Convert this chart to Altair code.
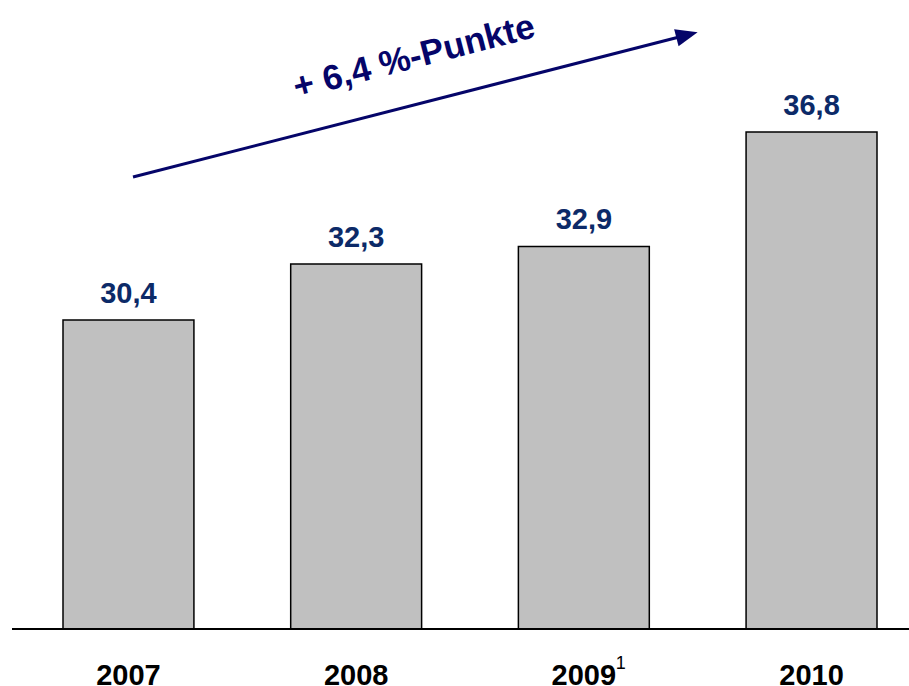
import altair as alt
import pandas as pd

years = ["2007", "2008", "2009", "2010"]
values = [30.4, 32.3, 32.9, 36.8]
value_labels = ["30,4", "32,3", "32,9", "36,8"]
footnote_year = ["2009"]
footnote_text = ["1"]
annotation_text = "+ 6,4 %-Punkte"

YMIN = 19.88
YMAX = 41.29
FONT = "Liberation Sans, Arial, Helvetica, sans-serif"

df = pd.DataFrame({"year": years, "value": values, "label": value_labels})
fn = pd.DataFrame({"year": footnote_year, "txt": footnote_text})
one = pd.DataFrame({"a": [0]})

xscale = alt.Scale(domain=years, range=[51, 865], paddingInner=0.425, paddingOuter=0)
yscale = alt.Scale(domain=[YMIN, YMAX], zero=False, nice=False)

xenc = alt.X("year:N", scale=xscale, sort=years,
             axis=alt.Axis(title=None, domain=False, ticks=False, tickSize=0,
                           labelAngle=0, labelFont=FONT, labelFontSize=29,
                           labelFontWeight="bold", labelColor="black",
                           labelBaseline="alphabetic", labelPadding=55, grid=False))

bars = alt.Chart(df).mark_bar(fill="#C0C0C0", stroke="black", strokeWidth=1.5).encode(
    x=xenc,
    y=alt.Y("value:Q", scale=yscale, axis=None),
    y2=alt.datum(YMIN),
)

labels = alt.Chart(df).mark_text(font=FONT, fontSize=29, fontWeight="bold",
                                 color="#0C2A68", baseline="alphabetic", dy=-17).encode(
    x=alt.X("year:N", scale=xscale, sort=years),
    y=alt.Y("value:Q", scale=yscale),
    text="label:N",
)

baseline = alt.Chart(one).mark_rule(color="black", strokeWidth=2).encode(
    y=alt.datum(YMIN)
)

footnote = alt.Chart(fn).mark_text(font=FONT, fontSize=18, color="black",
                                   baseline="alphabetic", dx=37).encode(
    x=alt.X("year:N", scale=xscale, sort=years),
    y=alt.value(669),
    text="txt:N",
)

arrow_line = alt.Chart(one).mark_rule(color="#050569", strokeWidth=3).encode(
    x=alt.value(121), y=alt.value(177), x2=alt.value(675), y2=alt.value(35)
)

arrow_head = alt.Chart(one).mark_point(
    shape="M-1,-0.8L1,0L-1,0.8Z", filled=True, size=484, angle=345.5,
    color="#050569", opacity=1, strokeWidth=0
).encode(x=alt.value(675), y=alt.value(35))

annotation = alt.Chart(one).mark_text(
    text=annotation_text, font=FONT, fontSize=35, fontWeight="bold",
    color="#050569", angle=345.5, align="center", baseline="middle"
).encode(x=alt.value(402), y=alt.value(57))

chart = alt.layer(bars, labels, baseline, footnote, arrow_line, arrow_head, annotation).properties(
    width=897, height=629,
    autosize=alt.AutoSizeParams(type="none"),
    padding={"left": 12, "top": 0, "right": 0, "bottom": 57},
    background="white",
).configure_view(stroke=None)

chart.save("out.html", embed_options={"renderer": "svg", "actions": False})
